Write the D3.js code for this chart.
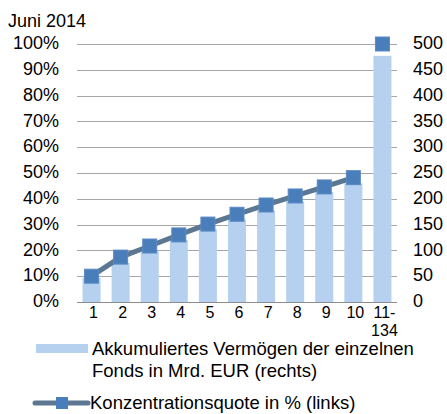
<!DOCTYPE html>
<html>
<head>
<meta charset="utf-8">
<script src="https://cdn.jsdelivr.net/npm/d3@7.9.0/dist/d3.min.js"></script>
<style>
  body { margin: 0; background: #fff; }
  svg { font-family: "Liberation Sans", Arial, sans-serif; }
</style>
</head>
<body>
<svg id="chart" width="447" height="414"></svg>
<script>
const categories = ['1', '2', '3', '4', '5', '6', '7', '8', '9', '10', '11-\n134'];
const vermoegen = [47, 76, 98, 120, 141, 160, 177, 195, 213, 230, 477];
const quote = [10, 17.4, 21.7, 26, 30.2, 34, 37.6, 41.1, 44.6, 48.2, 100];
const leftTicks = [0, 10, 20, 30, 40, 50, 60, 70, 80, 90, 100];
const rightTicks = [0, 50, 100, 150, 200, 250, 300, 350, 400, 450, 500];

const svg = d3.select('#chart');

const x = d3.scaleBand()
  .domain(categories)
  .range([77, 397])
  .paddingInner(0.38)
  .paddingOuter(0.19);

const yLeft = d3.scaleLinear().domain([0, 100]).range([302, 44]);
const yRight = d3.scaleLinear().domain([0, 500]).range([302, 44]);

// title
svg.append('text')
  .attr('x', 8).attr('y', 27)
  .attr('font-size', 18)
  .text('Juni 2014');

// gridlines
svg.append('g')
  .selectAll('line')
  .data(leftTicks)
  .join('line')
  .attr('x1', 77).attr('x2', 397)
  .attr('y1', d => Math.round(yLeft(d)) + 0.5)
  .attr('y2', d => Math.round(yLeft(d)) + 0.5)
  .attr('stroke', d => d === 0 ? '#8c8c8c' : '#a6a6a6')
  .attr('stroke-width', 1);

// left axis
const leftAxis = svg.append('g')
  .attr('transform', 'translate(61,0)')
  .call(d3.axisLeft(yLeft).tickValues(leftTicks).tickSize(0).tickPadding(2).tickFormat(d => d + '%'));
leftAxis.select('.domain').remove();
leftAxis.selectAll('text').attr('font-size', 18).attr('fill', '#000').attr('font-family', null).attr('dy', '0.26em');

// right axis
const rightAxis = svg.append('g')
  .attr('transform', 'translate(411,0)')
  .call(d3.axisRight(yRight).tickValues(rightTicks).tickSize(0).tickPadding(2));
rightAxis.select('.domain').remove();
rightAxis.selectAll('text').attr('font-size', 18).attr('fill', '#000').attr('font-family', null).attr('dy', '0.26em');

// bars
svg.append('g')
  .selectAll('rect')
  .data(vermoegen)
  .join('rect')
  .attr('x', (d, i) => x(categories[i]))
  .attr('width', x.bandwidth())
  .attr('y', d => yRight(d))
  .attr('height', d => yRight(0) - yRight(d))
  .attr('fill', '#b5d1ef');

// line
const cx = i => x(categories[i]) + x.bandwidth() / 2;
const line = d3.line()
  .x((d, i) => cx(i))
  .y(d => yLeft(d));

svg.append('path')
  .datum(quote.slice(0, 10))
  .attr('d', line)
  .attr('fill', 'none')
  .attr('stroke', '#5b7791')
  .attr('stroke-width', 5);

const ms = 14;
svg.append('g')
  .selectAll('rect')
  .data(quote)
  .join('rect')
  .attr('x', (d, i) => cx(i) - ms / 2)
  .attr('y', d => yLeft(d) - ms / 2)
  .attr('width', ms).attr('height', ms)
  .attr('fill', '#4a7ebb')
  .attr('stroke', '#5a8ac4')
  .attr('stroke-width', 1);

// x labels
const xl = svg.append('g');
categories.forEach((c, i) => {
  const t = xl.append('text')
    .attr('x', cx(i) + 2)
    .attr('y', 318)
    .attr('font-size', 16)
    .attr('text-anchor', 'middle');
  c.split('\n').forEach((part, k) => {
    t.append('tspan').attr('x', cx(i) + 2).attr('dy', k === 0 ? 0 : 18).text(part);
  });
});

// legend
const lg = svg.append('g');
lg.append('rect')
  .attr('x', 36).attr('y', 344).attr('width', 52).attr('height', 9)
  .attr('fill', '#b5d1ef');
lg.append('text').attr('x', 92).attr('y', 355).attr('font-size', 18.5)
  .text('Akkumuliertes Vermögen der einzelnen');
lg.append('text').attr('x', 92).attr('y', 377).attr('font-size', 18.5)
  .text('Fonds in Mrd. EUR (rechts)');

lg.append('line')
  .attr('x1', 35).attr('x2', 88).attr('y1', 403).attr('y2', 403)
  .attr('stroke', '#5b7791').attr('stroke-width', 5).attr('stroke-linecap', 'round');
lg.append('rect')
  .attr('x', 56).attr('y', 397).attr('width', 12).attr('height', 12)
  .attr('fill', '#4a7ebb');
lg.append('text').attr('x', 90).attr('y', 409).attr('font-size', 18.5)
  .text('Konzentrationsquote in % (links)');
</script>
</body>
</html>
